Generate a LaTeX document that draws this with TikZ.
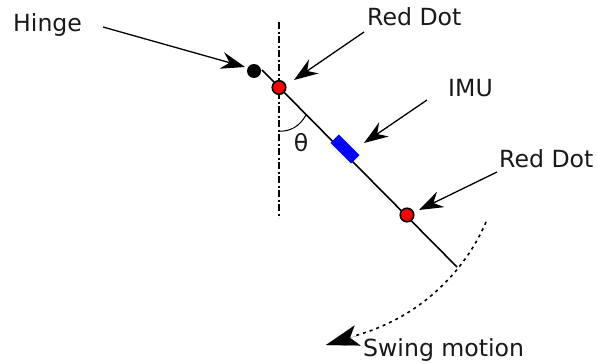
\documentclass[tikz,border=0pt]{standalone}
\usepackage{fontspec}
\setmainfont{DejaVu Sans}
\usetikzlibrary{arrows.meta}
\tikzset{
  lbl/.style={inner sep=0pt,font=\fontsize{23.6}{28}\selectfont,text=black!90},
  ptr/.style={draw=black,line width=1.3pt,-{Stealth[length=24pt,width=17pt,inset=8pt]}},
  bigptr/.style={draw=black,line width=0.1pt,-{Stealth[length=33pt,width=21pt,inset=8pt]}},
  rod/.style={draw=black,line width=1.6pt},
  reddot/.style={circle,draw=black,fill=red,line width=1.6pt,minimum size=13.5pt,inner sep=0pt},
  blackdot/.style={circle,fill=black,minimum size=14pt,inner sep=0pt},
  imubox/.style={rectangle,fill=blue,minimum width=29pt,minimum height=12pt,inner sep=0pt,rotate=-45}
}
\begin{document}
\begin{tikzpicture}[x=1pt,y=-1pt]
\useasboundingbox (0,0) rectangle (597,364);
\fill[white] (0,0) rectangle (597,364);
\coordinate (top) at (279,22);
\coordinate (bot) at (279,218);
\coordinate (rodstart) at (262,70);
\coordinate (rodend) at (457,267);
\coordinate (hingetail) at (103,27);
\coordinate (reda) at (364,32);
\coordinate (imua) at (427,100);
\coordinate (redb) at (497,172);
\coordinate (swa) at (486,222);
\coordinate (swb) at (326,345);
\coordinate (arca) at (279,131);
\coordinate (arcb) at (306,115);
\draw[black,line width=1.3pt,dash pattern=on 7pt off 2.5pt on 2pt off 2.5pt] (top) -- (bot);
\draw[rod] (rodstart) -- (rodend);
\draw[black,line width=1pt] (arca) .. controls (290,132) and (300,126) .. (arcb);
\node[blackdot] (hinge) at (254,71) {};
\node[reddot] (r1) at (279,87.5) {};
\node[reddot] (r2) at (407,215) {};
\node[imubox] (imu) at (345,149) {};
\node[lbl] (thetal) at (301,143) {θ};
\node[lbl,anchor=base west] (hl) at (13,31) {Hinge};
\node[lbl,anchor=base west] (r1l) at (367,25) {Red Dot};
\node[lbl,anchor=base west] (il) at (448,96) {IMU};
\node[lbl,anchor=base west] (r2l) at (499,167) {Red Dot};
\node[lbl,anchor=base west] (sl) at (363,356) {Swing motion};
\coordinate (h2) at (245,67);
\coordinate (r1t) at (294,80);
\coordinate (it) at (364,143);
\coordinate (r2t) at (419,210);
\draw[ptr] (hingetail) -- (h2);
\draw[ptr] (reda) -- (r1t);
\draw[ptr] (imua) -- (it);
\draw[ptr] (redb) -- (r2t);
\draw[black,line width=1.6pt,dash pattern=on 3pt off 4pt] (swa) .. controls (470,260) and (430,315) .. (354,336);
\coordinate (swm) at (356,336);
\draw[bigptr] (swm) -- (swb);
\end{tikzpicture}
\end{document}
